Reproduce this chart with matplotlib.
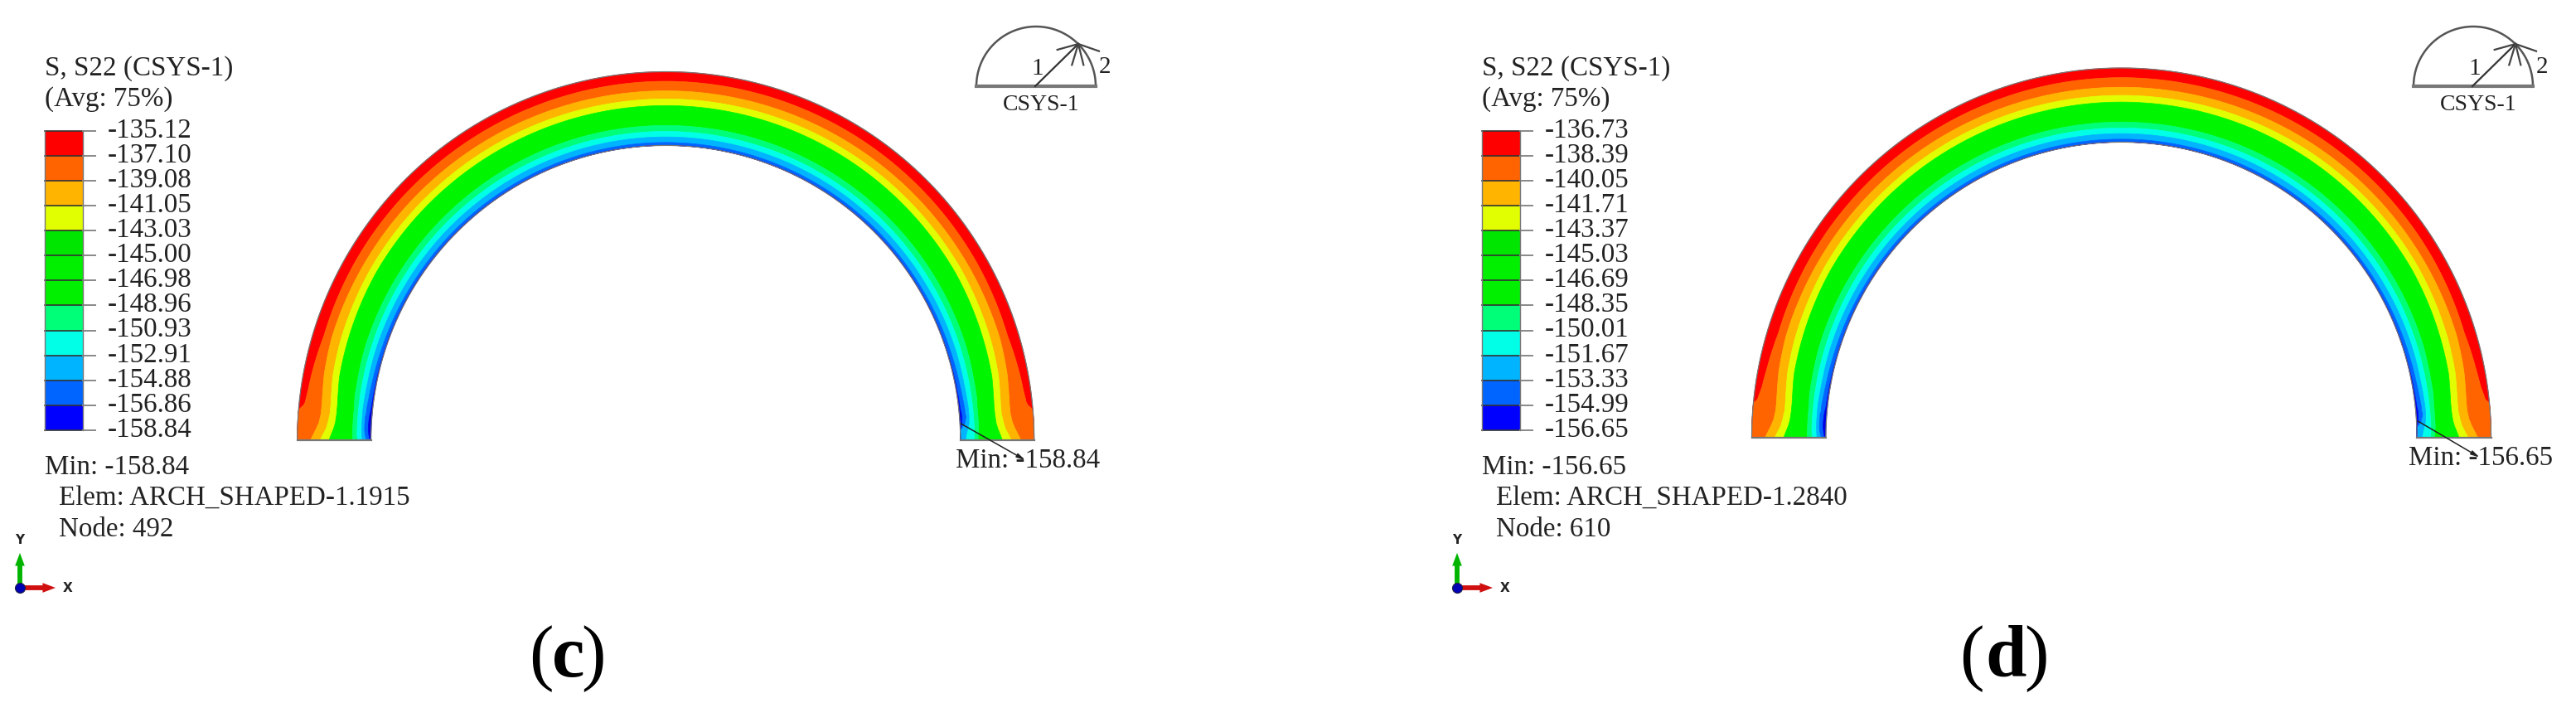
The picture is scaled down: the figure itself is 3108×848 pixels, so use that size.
import numpy as np
import matplotlib
matplotlib.use('Agg')
import matplotlib.pyplot as plt

plt.rcParams['font.family'] = ['Liberation Serif', 'DejaVu Serif']

#legend values
levels_c = ['-135.12', '-137.10', '-139.08', '-141.05', '-143.03', '-145.00', '-146.98',
            '-148.96', '-150.93', '-152.91', '-154.88', '-156.86', '-158.84']
levels_d = ['-136.73', '-138.39', '-140.05', '-141.71', '-143.37', '-145.03', '-146.69',
            '-148.35', '-150.01', '-151.67', '-153.33', '-154.99', '-156.65']
legend_colors = ['#ff0000', '#ff6400', '#ffb400', '#e1ff00', '#00e600', '#00f000', '#00f000',
                 '#00ff78', '#00ffe6', '#00b4ff', '#0064ff', '#0000ff']
band_colors = ['#ff0000', '#ff6400', '#ffb400', '#e1ff00', '#00f500', '#00ff78', '#00ffe6',
               '#00b4ff', '#0064ff', '#0000e6']

#band boundaries, angle from the springing vs fraction of wall thickness from the outside
foot_angles = [0, 1, 2, 3, 4.5, 5, 5.5, 6, 8, 11, 17, 30, 90]
red_c = [0, 0, 0, 0, 0, 0.02, 0.06, 0.08, 0.10, 0.115, 0.15, 0.14, 0.13]
red_d = [0, 0, 0, 0, 0, 0, 0.01, 0.05, 0.09, 0.115, 0.15, 0.14, 0.13]
orange = [.18, .22, .26, .29, .31, .31, .31, .31, .30, .28, .26, .26, .26]
amber = [.31, .35, .39, .41, .43, .43, .43, .43, .42, .40, .385, .37, .37]
yellow = [.43, .46, .49, .51, .52, .52, .52, .52, .51, .49, .48, .46, .46]
green = [.75, .75, .75, .75, .75, .75, .75, .75, .74, .74, .73, .73, .73]
spring = [.82, .81, .81, .81, .81, .81, .81, .81, .81, .81, .81, .81, .81]
cyan = [.88, .875, .87, .87, .87, .87, .87, .87, .875, .88, .88, .885, .885]
sky = [.94, .92, .91, .91, .91, .92, .92, .92, .93, .94, .95, .96, .96]
blue = [.985, .97, .96, .96, .965, .97, .975, .98, .985, .99, .995, .995, 1.0]
#the right foot differs at the inner corner
green_r = [.76, .76, .75, .75, .75, .75, .75, .75, .74, .74, .73, .73, .73]
cyan_r = [.93, .92, .90, .88, .87, .87, .87, .87, .875, .88, .88, .885, .885]
sky_r = [1, 1, 1, .94, .91, .92, .92, .92, .93, .94, .95, .96, .96]
blue_r = [1, 1, 1, .98, .97, .97, .975, .98, .985, .99, .995, .995, 1.0]


def draw_arch(ax, cx, base, r_out, r_in, red):
    left = [red, orange, amber, yellow, green, spring, cyan, sky, blue]
    right = [red, orange, amber, yellow, green_r, spring, cyan_r, sky_r, blue_r]
    theta = np.linspace(0, 180, 1801)
    half = np.array(foot_angles)
    fr = [np.zeros_like(theta)]
    for a, b in zip(left, right):
        f = np.where(theta <= 90,
                     np.interp(theta, half, a),
                     np.interp(180 - theta, half, b))
        fr.append(f)
    fr.append(np.ones_like(theta))
    # theta=0 is the left foot
    ca = -np.cos(np.radians(theta))
    sa = np.sin(np.radians(theta))
    for i in range(len(band_colors)):
        r1 = r_out - fr[i] * (r_out - r_in)
        r2 = r_out - fr[i + 1] * (r_out - r_in)
        xs = np.r_[cx + r1 * ca, (cx + r2 * ca)[::-1]]
        ys = np.r_[base - r1 * sa, (base - r2 * sa)[::-1]]
        ax.fill(xs, ys, color=band_colors[i], lw=0.5, zorder=2)
    ax.plot(cx + r_out * ca, base - r_out * sa, color='#777777', lw=0.9, zorder=3)
    ax.plot(cx + r_in * ca, base - r_in * sa, color='#777777', lw=0.9, zorder=3)
    ax.plot([cx - r_out, cx - r_in], [base, base], color='#777777', lw=1.6, zorder=3)
    ax.plot([cx + r_in, cx + r_out], [base, base], color='#777777', lw=1.6, zorder=3)


def draw_legend(ax, dx, labels, elem, node, min_val):
    x0, x1 = 54 + dx, 99.5 + dx
    ys = np.linspace(157.5, 519, 13)
    for i, c in enumerate(legend_colors):
        ax.fill([x0, x1, x1, x0], [ys[i], ys[i], ys[i + 1], ys[i + 1]], color=c, lw=0, zorder=2)
    for y, lab in zip(ys, labels):
        ax.plot([x0, x1], [y, y], color='#333333', lw=1.2, zorder=3)
        ax.plot([x1, 115 + dx], [y, y], color='#888888', lw=1.4, zorder=3)
        ax.text(130 + dx, y + 8.0, lab, fontsize=23.8, color='#222222', va='baseline')
    ax.plot([x0, x0], [ys[0], ys[-1]], color='#777777', lw=1, zorder=3)
    ax.plot([x1, x1], [ys[0], ys[-1]], color='#777777', lw=1, zorder=3)
    ax.text(54 + dx, 90.7, 'S, S22 (CSYS-1)', fontsize=23.8, color='#222222', va='baseline')
    ax.text(54 + dx, 128, '(Avg: 75%)', fontsize=23.8, color='#222222', va='baseline')
    ax.text(54 + dx, 572, 'Min: ' + min_val, fontsize=23.8, color='#222222', va='baseline')
    ax.text(71 + dx, 609, 'Elem: ' + elem, fontsize=23.8, color='#222222', va='baseline')
    ax.text(71 + dx, 647, 'Node: ' + node, fontsize=23.8, color='#222222', va='baseline')


def draw_triad(ax, dx):
    cx, by, r = 1250 + dx, 104, 72
    t = np.linspace(0, np.pi, 200)
    ax.plot(cx + r * np.cos(t), by - r * np.sin(t), color='#555555', lw=1.8)
    ax.plot([cx - r, cx + r], [by, by], color='#777777', lw=3)
    ax.plot([1249 + dx, 1301 + dx], [104, 53], color='#333333', lw=1.6)
    for ex, ey in [(1275.7, 60), (1326, 61.7), (1293.3, 78.3), (1307.3, 78.3)]:
        ax.plot([1301 + dx, ex + dx], [53, ey], color='#444444', lw=1.6)
    ax.text(1251.7 + dx, 90, '1', fontsize=21, color='#222222', ha='center', va='baseline')
    ax.text(1333 + dx, 88, '2', fontsize=21, color='#222222', ha='center', va='baseline')
    ax.text(1255.7 + dx, 133, 'CSYS-1', fontsize=20, color='#222222', ha='center', va='baseline')


def draw_axes_triad(ax, dx):
    ox, oy = 24 + dx, 709
    style = 'simple,head_width=0.6,head_length=0.8,tail_width=0.3'
    ax.annotate('', xy=(ox, 667), xytext=(ox, oy),
                arrowprops=dict(arrowstyle=style, mutation_scale=14,
                                color='#00b400', lw=0, shrinkA=0, shrinkB=0))
    ax.annotate('', xy=(67 + dx, oy), xytext=(ox, oy),
                arrowprops=dict(arrowstyle=style, mutation_scale=14,
                                color='#d01010', lw=0, shrinkA=0, shrinkB=0))
    ax.scatter([ox], [oy], s=75, color='#0000b4', edgecolor='#222244', lw=0.8, zorder=5)
    ax.text(ox, 651, 'Y', family='DejaVu Sans', fontsize=11, fontweight='bold',
            color='#222222', ha='center', va='center')
    ax.text(82 + dx, oy, 'X', family='DejaVu Sans', fontsize=11, fontweight='bold',
            color='#222222', ha='center', va='center')


def draw_min_note(ax, x0, y0, x1, y1, tx, ty, val):
    ax.text(tx, ty, 'Min: ' + val, fontsize=23.8, color='#222222', va='baseline', zorder=4)
    ax.annotate('', xy=(x1, y1), xytext=(x0, y0), zorder=5,
                arrowprops=dict(arrowstyle='-|>,head_width=0.15,head_length=0.6',
                                color='#222222', lw=1.1, shrinkA=0, shrinkB=0))


def draw_tag(ax, x_l, x_m, x_r, letter):
    ax.text(x_l, 816, '(', fontsize=64, color='black', ha='center', va='baseline')
    ax.text(x_m, 816, letter, fontsize=64, fontweight='bold', color='black', ha='center', va='baseline')
    ax.text(x_r, 816, ')', fontsize=64, color='black', ha='center', va='baseline')


fig = plt.figure(figsize=(31.08, 8.48), dpi=100)
ax = fig.add_axes([0, 0, 1, 1])
ax.set_xlim(0, 3108)
ax.set_ylim(848, 0)
ax.axis('off')

draw_arch(ax, 803.2, 531, 444.5, 355.6, red_c)
draw_legend(ax, 0, levels_c, 'ARCH_SHAPED-1.1915', '492', levels_c[-1])
draw_triad(ax, 0)
draw_axes_triad(ax, 0)
draw_min_note(ax, 1159.3, 511, 1237, 555, 1153.3, 564, levels_c[-1])
draw_tag(ax, 653, 685.5, 716, 'c')

draw_arch(ax, 2559.5, 528, 446, 356.6, red_d)
draw_legend(ax, 1734, levels_d, 'ARCH_SHAPED-1.2840', '610', levels_d[-1])
draw_triad(ax, 1734)
draw_axes_triad(ax, 1734)
draw_min_note(ax, 2917.3, 508, 2991.7, 551.7, 2906, 560.7, levels_d[-1])
draw_tag(ax, 2379, 2420, 2457, 'd')

fig.savefig('out.png', dpi=100, facecolor='white')
